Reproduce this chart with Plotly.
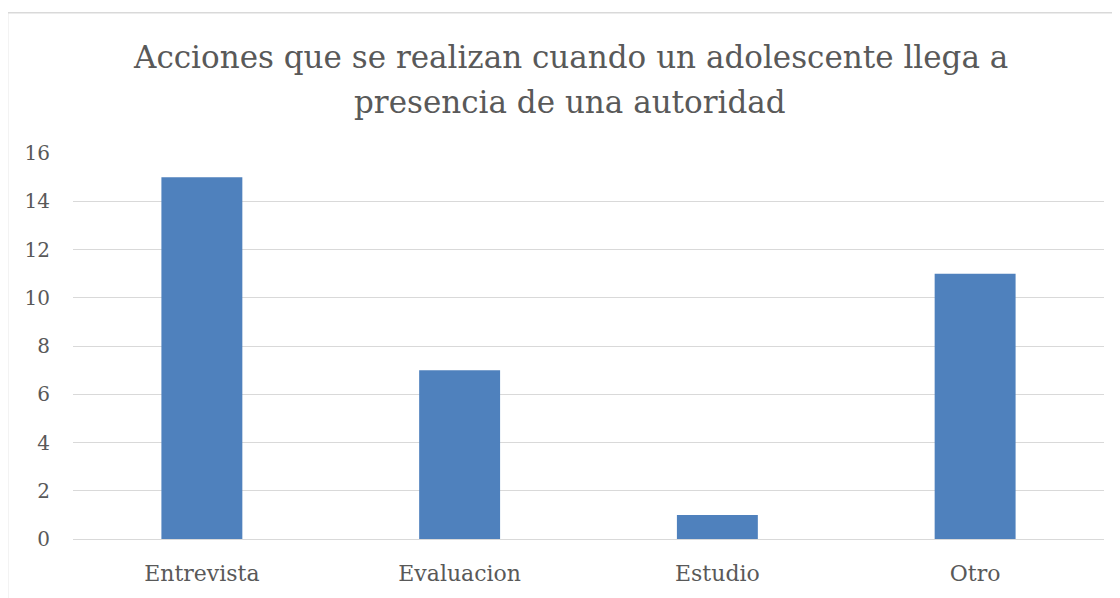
import plotly.graph_objects as go

# Datos
categorias = ["Entrevista", "Evaluacion", "Estudio", "Otro"]
valores = [15, 7, 1, 11]
ticks_y = [0, 2, 4, 6, 8, 10, 12, 14, 16]
titulo = ["Acciones que se realizan cuando un adolescente llega a",
          "presencia de una autoridad"]

fuente = "DejaVu Serif"
gris_texto = "#595959"
gris_linea = "#d9d9d9"

# la pagina html deja 8px de margen en el body
desp = 8
m_izq, m_der, m_sup, m_inf = 72.5 - desp, 15.5 + desp, 152.5 - desp, 59 + desp
alto_plot = 598 - m_sup - m_inf
ancho_plot = 1120 - m_izq - m_der

fig = go.Figure()

fig.add_trace(go.Bar(
    x=categorias,
    y=valores,
    marker=dict(color="#4f81bd", line=dict(width=0)),
    hoverinfo="x+y",
))

fig.update_layout(
    width=1120,
    height=598,
    paper_bgcolor="white",
    plot_bgcolor="white",
    margin=dict(l=m_izq, r=m_der, t=m_sup, b=m_inf),
    bargap=0.686,
    showlegend=False,
    font=dict(family=fuente, color=gris_texto),
)

# titulo en dos lineas, cada una como anotacion para fijar el interlineado
for linea, y_px in zip(titulo, [56 - desp, 101 - desp]):
    fig.add_annotation(
        text=linea,
        xref="paper", yref="paper",
        x=(570 - desp - m_izq) / ancho_plot,
        y=(598 - m_inf - y_px) / alto_plot,
        xanchor="center", yanchor="middle",
        showarrow=False,
        font=dict(family=fuente, size=31, color=gris_texto),
    )

fig.update_xaxes(
    showgrid=False,
    showline=False,
    tickfont=dict(family=fuente, size=22, color=gris_texto),
    ticklabelstandoff=19,
)

fig.update_yaxes(
    range=[0, 16],
    tickvals=ticks_y,
    showgrid=True,
    gridcolor=gris_linea,
    gridwidth=1.3,
    zeroline=True,
    zerolinecolor=gris_linea,
    zerolinewidth=1.3,
    showline=False,
    tickfont=dict(family=fuente, size=20, color=gris_texto),
    ticklabelstandoff=22,
)

# Borde del area del grafico (se sale por la derecha y abajo)
fig.add_shape(
    type="rect",
    xref="paper", yref="paper",
    x0=(7 - 72.5) / 1032, x1=1.05,
    y0=-0.3, y1=(539 - 12) / 386.5,
    line=dict(color=gris_linea, width=1.5),
    fillcolor="rgba(0,0,0,0)",
    layer="below",
)

fig.write_html("out.html")
